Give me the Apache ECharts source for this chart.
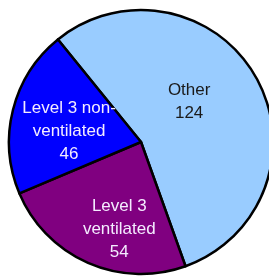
<!DOCTYPE html>
<html>
<head>
<meta charset="utf-8">
<script src="https://cdn.jsdelivr.net/npm/echarts@6/dist/echarts.min.js"></script>
<style>
  html, body { margin: 0; padding: 0; background: #fff; }
  #chart { width: 269px; height: 280px; }
</style>
</head>
<body>
<div id="chart"></div>
<script>
// slice names and counts, in clockwise order from the top-left edge
const names = ['Other', 'Level 3\nventilated', 'Level 3 non-\nventilated']
const values = [124, 54, 46]
const colors = ['#99ccff', '#800080', '#0000ff']
const textColors = ['#1a1a1a', '#f4ecff', '#f4ecff']
// nudges for inner labels
const labelShift = [[-12, -6], [6, 24], [-5, 6]]

const chart = echarts.init(document.getElementById('chart'))

chart.setOption({
  animation: false,
  series: [
    {
      type: 'pie',
      center: [141, 142],
      radius: 132,
      startAngle: 129,
      clockwise: true,
      avoidLabelOverlap: false,
      itemStyle: {
        borderColor: '#000',
        borderWidth: 2.5
      },
      label: {
        position: 'inside',
        fontFamily: '"Liberation Sans", Arial, sans-serif',
        fontSize: 17,
        lineHeight: 23,
        align: 'center',
        formatter: p => p.name + '\n' + p.value
      },
      labelLine: { show: false },
      labelLayout: p => ({ dx: labelShift[p.dataIndex][0], dy: labelShift[p.dataIndex][1] }),
      emphasis: { disabled: true },
      data: names.map((n, i) => ({
        name: n,
        value: values[i],
        itemStyle: { color: colors[i] },
        label: { color: textColors[i] }
      }))
    }
  ]
})
</script>
</body>
</html>
